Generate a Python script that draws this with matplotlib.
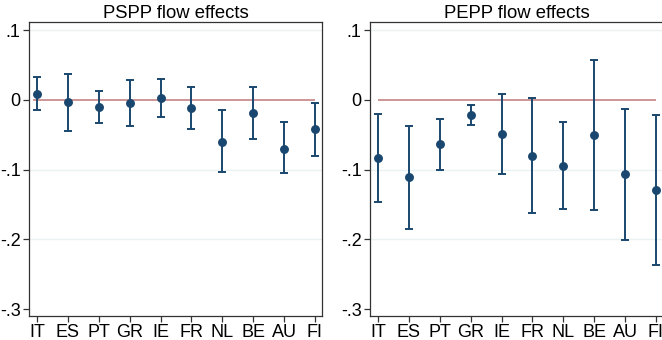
import matplotlib

matplotlib.use("Agg")
import matplotlib.pyplot as plt

plt.rcParams["font.family"] = ["Liberation Sans", "DejaVu Sans"]

NAVY = "#1a476f"
REF = "#c98d8d"
GRID = "#eaf2f3"

countries = ["IT", "ES", "PT", "GR", "IE", "FR", "NL", "BE", "AU", "FI"]

pspp_est = [0.0086, -0.0033, -0.0105, -0.005, 0.0024, -0.0124, -0.060, -0.0187, -0.070, -0.0426]
pspp_lo = [-0.0148, -0.0445, -0.033, -0.037, -0.0244, -0.0426, -0.103, -0.056, -0.105, -0.080]
pspp_hi = [0.032, 0.037, 0.013, 0.028, 0.030, 0.0177, -0.0153, 0.019, -0.0325, -0.0048]

pepp_est = [-0.0837, -0.111, -0.0636, -0.0215, -0.049, -0.080, -0.0947, -0.050, -0.107, -0.1296]
pepp_lo = [-0.147, -0.1855, -0.100, -0.036, -0.1066, -0.163, -0.157, -0.1575, -0.2017, -0.2367]
pepp_hi = [-0.020, -0.038, -0.027, -0.007, 0.0086, 0.003, -0.0325, 0.057, -0.013, -0.022]

yticks = [0.1, 0, -0.1, -0.2, -0.3]
ylabels = [".1", "0", "-.1", "-.2", "-.3"]

fig = plt.figure(figsize=(6.62, 3.4), dpi=100)
ax1 = fig.add_axes([0.0438, 0.0706, 0.4426, 0.8647])
ax2 = fig.add_axes([0.5589, 0.0706, 0.4426, 0.8647])


def panel(ax, est, lo, hi, title, line_start):
    x = list(range(1, len(countries) + 1))
    for t in (0.1, -0.1, -0.2):
        ax.axhline(t, color=GRID, linewidth=1.0, zorder=0)
    ax.hlines(0, line_start, 10, color=REF, linewidth=1.3, zorder=1)
    yerr = [[e - l for e, l in zip(est, lo)], [h - e for e, h in zip(est, hi)]]
    ax.errorbar(x, est, yerr=yerr, fmt="o", color=NAVY, ecolor=NAVY,
                markersize=5.4, elinewidth=1.4, capsize=2.6, capthick=1.4, zorder=3)
    ax.set_xlim(0.74, 10.23)
    ax.set_ylim(-0.31, 0.1115)
    ax.set_xticks(x)
    ax.set_xticklabels(countries)
    ax.set_yticks(yticks)
    ax.set_yticklabels(ylabels)
    ax.tick_params(labelsize=13, length=4, width=0.9, color="#333333", pad=2)
    for s in ax.spines.values():
        s.set_color("#333333")
        s.set_linewidth(0.9)
    ax.set_title(title, fontsize=13.3, pad=3)


panel(ax1, pspp_est, pspp_lo, pspp_hi, "PSPP flow effects", 0.87)
panel(ax2, pepp_est, pepp_lo, pepp_hi, "PEPP flow effects", 1.0)

fig.savefig("out.png", dpi=100)
